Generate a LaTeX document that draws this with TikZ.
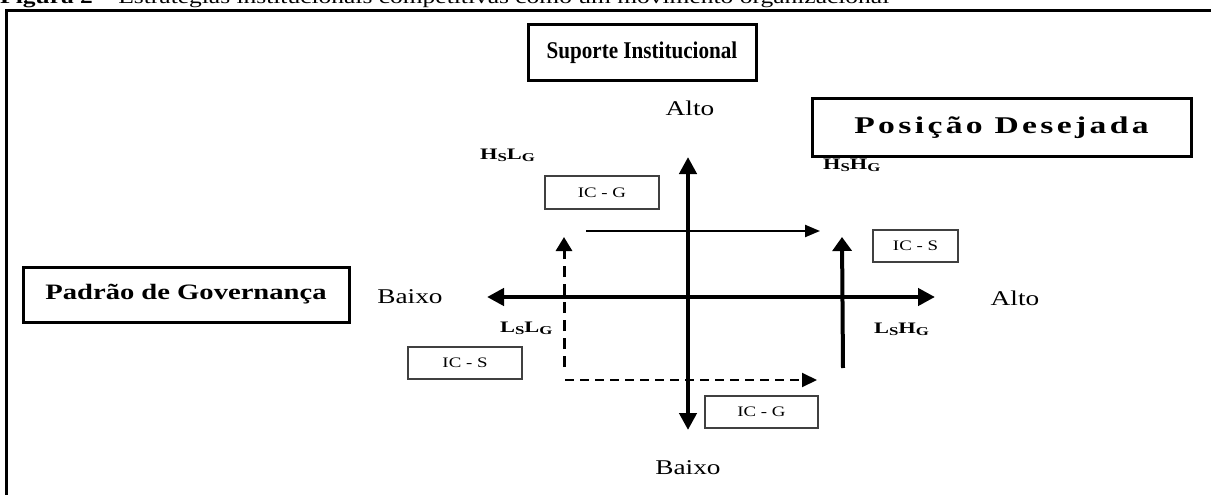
\documentclass[tikz,border=0pt]{standalone}
\usepackage{fontspec}
\setmainfont{Liberation Serif}
\newfontfamily\wide[FakeStretch=1.3]{Liberation Serif}
\newfontfamily\wider[FakeStretch=1.4]{Liberation Serif}
\newfontfamily\narrow[FakeStretch=0.88]{Liberation Serif}
\newfontfamily\widesp[FakeStretch=1.4,LetterSpace=14]{Liberation Serif}
\usetikzlibrary{arrows.meta}
\newcommand\sublab[4]{#1\raisebox{-2pt}{\fontsize{12}{12}\selectfont #2}#3\raisebox{-2pt}{\fontsize{12}{12}\selectfont #4}}
\tikzset{
  axis/.style={line width=4.5pt,{Triangle[length=17pt,width=17pt]}-{Triangle[length=17pt,width=17pt]}},
  headbox/.style={draw, line width=3pt, inner sep=0pt},
  icbox/.style={draw=black!75, line width=1.3pt, inner sep=0pt, minimum height=32pt, font=\wide\fontsize{14.5}{16}\selectfont},
  lab/.style={inner sep=0pt, font=\wide\fontsize{21}{24}\selectfont},
  quad/.style={inner sep=0pt, anchor=base west, font=\wider\bfseries\fontsize{16}{18}\selectfont},
  frame/.style={line width=3pt},
}
\begin{document}
\begin{tikzpicture}[x=1pt,y=-1pt]
\useasboundingbox (0,0) rectangle (1211,495);
\clip (0,0) rectangle (1211,495);
% caption (cut at the top)
\node[anchor=base west, inner sep=0pt, font=\wide\fontsize{19.6}{22}\selectfont] (cap) at (0,4)
  {\textbf{Figura 2} – Estratégias institucionais competitivas como um movimento organizacional};
% outer frame
\coordinate (fbl) at (6.5,520);
\coordinate (ftl) at (6.5,11);
\coordinate (ftr) at (1230,11);
\draw[frame] (fbl) -- (ftl) -- (ftr);
% heading boxes
\node[headbox, minimum width=228pt, minimum height=56pt, font=\narrow\bfseries\fontsize{24}{28}\selectfont] (sup) at (642,53) {Suporte Institucional};
\node[headbox, minimum width=379pt, minimum height=57pt, font=\widesp\bfseries\fontsize{24}{28}\selectfont] (pos) at (1001.5,127.5) {Posição Desejada};
\node[headbox, minimum width=326pt, minimum height=55pt, font=\wide\bfseries\fontsize{22}{26}\selectfont] (pad) at (186,294.5) {Padrão de Governança};
% axis labels
\node[lab] (altoT) at (690,108) {Alto};
\node[lab] (baixoL) at (410,297) {Baixo};
\node[lab] (altoR) at (1015,298) {Alto};
\node[lab] (baixoB) at (688,468) {Baixo};
% quadrant labels
\node[quad] (hslg) at (480,159) {\sublab{H}{S}{L}{G}};
\node[quad] (hshg) at (823,169) {\sublab{H}{S}{H}{G}};
\node[quad] (lslg) at (500,332) {\sublab{L}{S}{L}{G}};
\node[quad] (lshg) at (874,333) {\sublab{L}{S}{H}{G}};
% IC boxes
\node[icbox, minimum width=114pt, minimum height=33pt] (icg1) at (602,192.5) {IC - G};
\node[icbox, minimum width=85pt] (ics1) at (915.5,246) {IC - S};
\node[icbox, minimum width=114pt] (ics2) at (465,363) {IC - S};
\node[icbox, minimum width=113pt] (icg2) at (761.5,412) {IC - G};
% axes
\coordinate (hl) at (487,297);
\coordinate (hr) at (935,297);
\coordinate (vt) at (688,157);
\coordinate (vb) at (688,430);
\draw[axis] (hl) -- (hr);
\draw[axis] (vb) -- (vt);
% movement arrows
\coordinate (a1s) at (586,231);
\coordinate (a1e) at (820,231);
\draw[line width=2.2pt,-{Triangle[length=15pt,width=12pt]}] (a1s) -- (a1e);
\coordinate (a2s) at (564,367);
\coordinate (a2e) at (564,237);
\draw[line width=3pt,dash pattern=on 11pt off 7pt,-{Triangle[length=14pt,width=16pt]}] (a2s) -- (a2e);
\coordinate (a3s) at (565,380);
\coordinate (a3e) at (817,380);
\draw[line width=2pt,dash pattern=on 9pt off 6pt,-{Triangle[length=15pt,width=14pt]}] (a3s) -- (a3e);
\coordinate (a4s) at (843,368);
\coordinate (a4e) at (842,237);
\draw[line width=4pt,-{Triangle[length=14pt,width=19pt]}] (a4s) -- (a4e);
\end{tikzpicture}
\end{document}
